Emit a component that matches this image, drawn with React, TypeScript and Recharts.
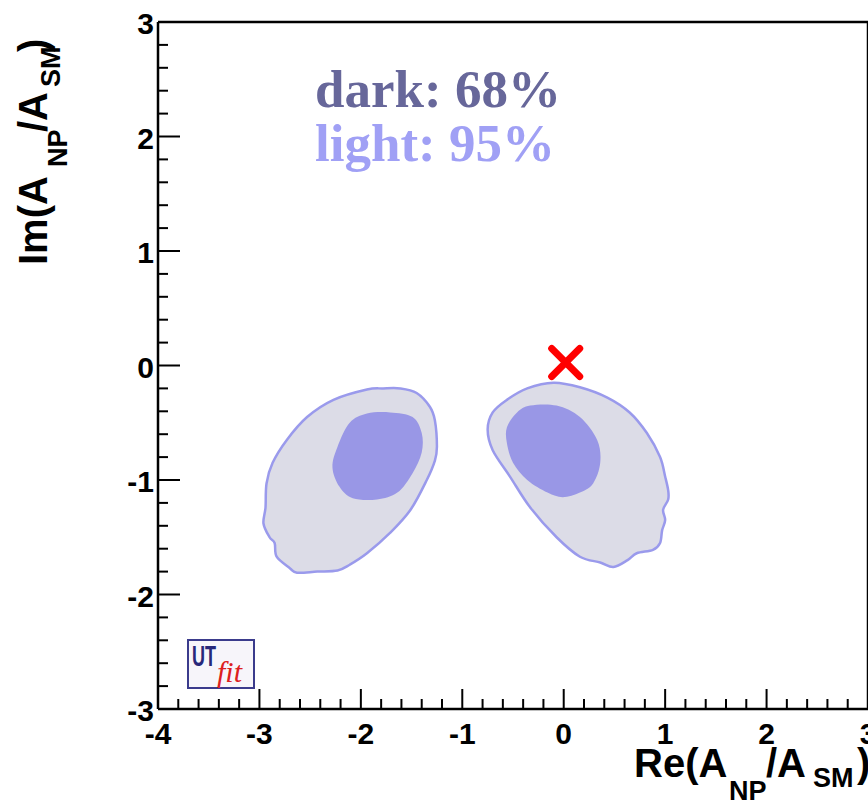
import React from 'react';
import { ScatterChart, Scatter, XAxis, YAxis, ReferenceLine, Customized } from 'recharts';

// contour outlines, in (Re, Im) units
const leftOuter = [
  { x: -1.78, y: -0.2 }, { x: -1.61, y: -0.2 }, { x: -1.45, y: -0.24 }, { x: -1.32, y: -0.36 },
  { x: -1.27, y: -0.48 }, { x: -1.25, y: -0.71 }, { x: -1.27, y: -0.83 }, { x: -1.35, y: -1.0 },
  { x: -1.51, y: -1.26 }, { x: -1.71, y: -1.46 }, { x: -1.94, y: -1.64 }, { x: -2.11, y: -1.74 },
  { x: -2.23, y: -1.79 }, { x: -2.43, y: -1.8 }, { x: -2.63, y: -1.81 }, { x: -2.7, y: -1.77 },
  { x: -2.83, y: -1.67 }, { x: -2.85, y: -1.55 }, { x: -2.9, y: -1.5 }, { x: -2.96, y: -1.38 },
  { x: -2.94, y: -1.24 }, { x: -2.93, y: -1.03 }, { x: -2.87, y: -0.85 }, { x: -2.73, y: -0.65 },
  { x: -2.53, y: -0.45 }, { x: -2.27, y: -0.3 }, { x: -1.94, y: -0.21 },
];
const leftInner = [
  { x: -1.71, y: -0.41 }, { x: -1.49, y: -0.45 }, { x: -1.4, y: -0.59 }, { x: -1.4, y: -0.76 },
  { x: -1.49, y: -0.94 }, { x: -1.64, y: -1.11 }, { x: -1.84, y: -1.17 }, { x: -2.08, y: -1.16 },
  { x: -2.21, y: -1.06 }, { x: -2.28, y: -0.89 }, { x: -2.23, y: -0.71 }, { x: -2.11, y: -0.5 },
  { x: -1.94, y: -0.42 },
];
const rightOuter = [
  { x: -0.1, y: -0.15 }, { x: 0.16, y: -0.19 }, { x: 0.43, y: -0.28 }, { x: 0.65, y: -0.41 },
  { x: 0.82, y: -0.59 }, { x: 0.95, y: -0.8 }, { x: 1.0, y: -0.97 }, { x: 1.03, y: -1.09 },
  { x: 1.03, y: -1.17 }, { x: 0.98, y: -1.26 }, { x: 1.0, y: -1.35 }, { x: 0.97, y: -1.44 },
  { x: 0.95, y: -1.55 }, { x: 0.88, y: -1.61 }, { x: 0.72, y: -1.64 }, { x: 0.63, y: -1.7 },
  { x: 0.49, y: -1.76 }, { x: 0.36, y: -1.72 }, { x: 0.16, y: -1.67 }, { x: -0.07, y: -1.5 },
  { x: -0.33, y: -1.24 }, { x: -0.53, y: -0.97 }, { x: -0.7, y: -0.74 }, { x: -0.75, y: -0.56 },
  { x: -0.7, y: -0.41 }, { x: -0.56, y: -0.3 }, { x: -0.36, y: -0.2 },
];
const rightInner = [
  { x: -0.33, y: -0.35 }, { x: -0.07, y: -0.35 }, { x: 0.16, y: -0.45 }, { x: 0.33, y: -0.65 },
  { x: 0.36, y: -0.85 }, { x: 0.29, y: -1.03 }, { x: 0.16, y: -1.11 }, { x: -0.01, y: -1.15 },
  { x: -0.16, y: -1.11 }, { x: -0.36, y: -1.0 }, { x: -0.5, y: -0.85 }, { x: -0.56, y: -0.68 },
  { x: -0.56, y: -0.54 }, { x: -0.46, y: -0.41 },
];
const smPoint = [{ x: 0, y: 0 }];

const xTicks = [
  -4, -3.8, -3.6, -3.4, -3.2, -3, -2.8, -2.6, -2.4, -2.2, -2, -1.8, -1.6, -1.4, -1.2, -1,
  -0.8, -0.6, -0.4, -0.2, 0, 0.2, 0.4, 0.6, 0.8, 1, 1.2, 1.4, 1.6, 1.8, 2, 2.2, 2.4, 2.6, 2.8, 3,
];
const yTicks = [
  -3, -2.8, -2.6, -2.4, -2.2, -2, -1.8, -1.6, -1.4, -1.2, -1, -0.8, -0.6, -0.4, -0.2, 0,
  0.2, 0.4, 0.6, 0.8, 1, 1.2, 1.4, 1.6, 1.8, 2, 2.2, 2.4, 2.6, 2.8, 3,
];

const SANS = 'Liberation Sans, Arial, sans-serif';
const SERIF = 'Liberation Serif, Times New Roman, serif';

const isMajor = (v: number) => Math.abs(v - Math.round(v)) < 1e-6;

const XTick = (props: any) => {
  const { x, y, payload } = props;
  const v = payload.value;
  const major = isMajor(v);
  return (
    <g>
      <line x1={x} x2={x} y1={y} y2={y - (major ? 20 : 10)} stroke="#000" strokeWidth={2} />
      {major && (
        <text x={x} y={y + 35} textAnchor="middle" fontFamily={SANS} fontWeight="bold" fontSize={30} fill="#000">
          {Math.round(v)}
        </text>
      )}
    </g>
  );
};

const YTick = (props: any) => {
  const { x, y, payload } = props;
  const v = payload.value;
  const major = isMajor(v);
  return (
    <g>
      <line x1={x} x2={x + (major ? 22 : 10)} y1={y} y2={y} stroke="#000" strokeWidth={2} />
      {major && (
        <text x={x - 4} y={y + 12} textAnchor="end" fontFamily={SANS} fontWeight="bold" fontSize={30} fill="#000">
          {Math.round(v)}
        </text>
      )}
    </g>
  );
};

// closed Catmull-Rom path through the pixel points the scatter hands over
const smoothClosed = (pts: { x: number; y: number }[]) => {
  const n = pts.length;
  let d = `M${pts[0].x},${pts[0].y}`;
  for (let i = 0; i < n; i++) {
    const p0 = pts[(i - 1 + n) % n];
    const p1 = pts[i];
    const p2 = pts[(i + 1) % n];
    const p3 = pts[(i + 2) % n];
    const c1x = p1.x + (p2.x - p0.x) / 6;
    const c1y = p1.y + (p2.y - p0.y) / 6;
    const c2x = p2.x - (p3.x - p1.x) / 6;
    const c2y = p2.y - (p3.y - p1.y) / 6;
    d += ` C${c1x},${c1y} ${c2x},${c2y} ${p2.x},${p2.y}`;
  }
  return d + ' Z';
};

const blob = (fill: string, stroke: string, width: number) => (p: any) => (
  <path d={smoothClosed(p.points)} fill={fill} stroke={stroke} strokeWidth={width} />
);

const Cross = (p: any) => {
  const cx = p.cx + 2;
  const cy = p.cy - 3;
  const s = 14;
  return (
    <g stroke="#ff0000" strokeWidth={7} strokeLinecap="round">
      <line x1={cx - s} y1={cy - s} x2={cx + s} y2={cy + s} />
      <line x1={cx - s} y1={cy + s} x2={cx + s} y2={cy - s} />
    </g>
  );
};

const Decorations = () => (
  <g>
    <text x={315} y={107} fontFamily={SERIF} fontWeight="bold" fontSize={53} fill="#67679a">dark: 68%</text>
    <text x={315} y={161} fontFamily={SERIF} fontWeight="bold" fontSize={53} fill="#a0a0f5">light: 95%</text>

    <rect x={188} y={640} width={66} height={48} fill="#f7f5fa" stroke="#3b3b8c" strokeWidth={2} />
    <text x={192} y={666} fontFamily={SANS} fontWeight="bold" fontSize={29} fill="#28287a" textLength={24} lengthAdjust="spacingAndGlyphs">UT</text>
    <text x={217} y={682} fontFamily={SERIF} fontStyle="italic" fontSize={30} fill="#dd2020">fit</text>

    <text fontFamily={SANS} fontWeight="bold" fill="#000">
      <tspan x={634} y={777} fontSize={40}>Re(A</tspan>
      <tspan x={729} y={800} fontSize={27}>NP</tspan>
      <tspan x={766} y={777} fontSize={40}>/A</tspan>
      <tspan x={813} y={787} fontSize={27}>SM</tspan>
      <tspan x={857} y={777} fontSize={40}>)</tspan>
    </text>

    <g transform="translate(47,265) rotate(-90)">
      <text fontFamily={SANS} fontWeight="bold" fill="#000">
        <tspan x={0} y={0} fontSize={40}>Im(A</tspan>
        <tspan x={98} y={20} fontSize={27}>NP</tspan>
        <tspan x={133} y={0} fontSize={40}>/A</tspan>
        <tspan x={178} y={13} fontSize={27}>SM</tspan>
        <tspan x={213} y={0} fontSize={40}>)</tspan>
      </text>
    </g>
  </g>
);

export default function App() {
  return (
    <div style={{ position: 'absolute', left: 0, top: 0, background: '#fff' }}>
      <ScatterChart width={868} height={802} margin={{ top: 22, right: 0, bottom: 0, left: 0 }}>
        <XAxis
          type="number"
          dataKey="x"
          domain={[-4, 3]}
          ticks={xTicks}
          interval={0}
          allowDataOverflow
          height={93}
          tickSize={0}
          tickMargin={0}
          tickLine={false}
          tick={<XTick />}
          axisLine={{ stroke: '#000', strokeWidth: 2.5 }}
        />
        <YAxis
          type="number"
          dataKey="y"
          domain={[-3, 3]}
          ticks={yTicks}
          interval={0}
          allowDataOverflow
          width={158}
          tickSize={0}
          tickMargin={0}
          tickLine={false}
          tick={<YTick />}
          axisLine={{ stroke: '#000', strokeWidth: 2.5 }}
        />
        <ReferenceLine y={3} stroke="#000" strokeWidth={2.5} />
        <ReferenceLine x={3} stroke="#000" strokeWidth={2.5} />
        <Scatter data={leftOuter} line={blob('#dcdce7', '#9a9aec', 2.5)} shape={() => <g />} isAnimationActive={false} />
        <Scatter data={rightOuter} line={blob('#dcdce7', '#9a9aec', 2.5)} shape={() => <g />} isAnimationActive={false} />
        <Scatter data={leftInner} line={blob('#9997e6', 'none', 0)} shape={() => <g />} isAnimationActive={false} />
        <Scatter data={rightInner} line={blob('#9997e6', 'none', 0)} shape={() => <g />} isAnimationActive={false} />
        <Scatter data={smPoint} shape={<Cross />} isAnimationActive={false} />
        <Customized component={<Decorations />} />
      </ScatterChart>
    </div>
  );
}
